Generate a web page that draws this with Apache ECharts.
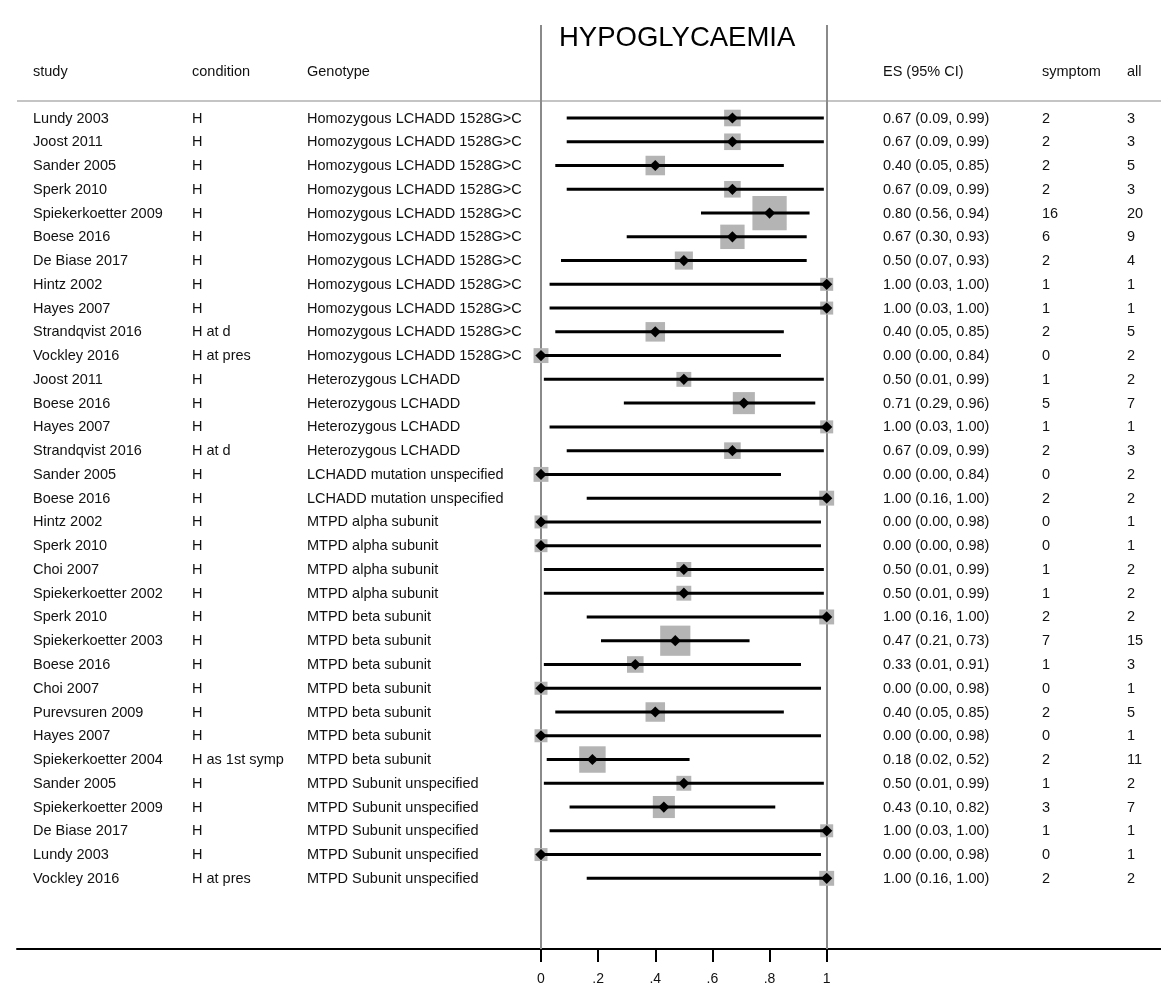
<!DOCTYPE html>
<html>
<head>
<meta charset="utf-8">
<title>Hypoglycaemia forest plot</title>
<script src="https://cdn.jsdelivr.net/npm/echarts@6/dist/echarts.min.js"></script>
<style>
  html, body { margin: 0; padding: 0; background: #fff; }
  #chart { width: 1161px; height: 1008px; }
</style>
</head>
<body>
<div id="chart"></div>
<script>
// Study rows, top to bottom
const study = [
  'Lundy 2003', 'Joost 2011', 'Sander 2005', 'Sperk 2010', 'Spiekerkoetter 2009',
  'Boese 2016', 'De Biase 2017', 'Hintz 2002', 'Hayes 2007', 'Strandqvist 2016',
  'Vockley 2016', 'Joost 2011', 'Boese 2016', 'Hayes 2007', 'Strandqvist 2016',
  'Sander 2005', 'Boese 2016', 'Hintz 2002', 'Sperk 2010', 'Choi 2007',
  'Spiekerkoetter 2002', 'Sperk 2010', 'Spiekerkoetter 2003', 'Boese 2016', 'Choi 2007',
  'Purevsuren 2009', 'Hayes 2007', 'Spiekerkoetter 2004', 'Sander 2005', 'Spiekerkoetter 2009',
  'De Biase 2017', 'Lundy 2003', 'Vockley 2016'
];
const condition = [
  'H', 'H', 'H', 'H', 'H', 'H', 'H', 'H', 'H', 'H at d', 'H at pres',
  'H', 'H', 'H', 'H at d', 'H', 'H', 'H', 'H', 'H', 'H', 'H', 'H', 'H', 'H',
  'H', 'H', 'H as 1st symp', 'H', 'H', 'H', 'H', 'H at pres'
];
const genotype = [
  'Homozygous LCHADD 1528G>C', 'Homozygous LCHADD 1528G>C', 'Homozygous LCHADD 1528G>C',
  'Homozygous LCHADD 1528G>C', 'Homozygous LCHADD 1528G>C', 'Homozygous LCHADD 1528G>C',
  'Homozygous LCHADD 1528G>C', 'Homozygous LCHADD 1528G>C', 'Homozygous LCHADD 1528G>C',
  'Homozygous LCHADD 1528G>C', 'Homozygous LCHADD 1528G>C',
  'Heterozygous LCHADD', 'Heterozygous LCHADD', 'Heterozygous LCHADD', 'Heterozygous LCHADD',
  'LCHADD mutation unspecified', 'LCHADD mutation unspecified',
  'MTPD alpha subunit', 'MTPD alpha subunit', 'MTPD alpha subunit', 'MTPD alpha subunit',
  'MTPD beta subunit', 'MTPD beta subunit', 'MTPD beta subunit', 'MTPD beta subunit',
  'MTPD beta subunit', 'MTPD beta subunit', 'MTPD beta subunit',
  'MTPD Subunit unspecified', 'MTPD Subunit unspecified', 'MTPD Subunit unspecified',
  'MTPD Subunit unspecified', 'MTPD Subunit unspecified'
];
const es = [
  0.67, 0.67, 0.40, 0.67, 0.80, 0.67, 0.50, 1.00, 1.00, 0.40, 0.00,
  0.50, 0.71, 1.00, 0.67, 0.00, 1.00, 0.00, 0.00, 0.50, 0.50,
  1.00, 0.47, 0.33, 0.00, 0.40, 0.00, 0.18, 0.50, 0.43, 1.00, 0.00, 1.00
];
const ciLow = [
  0.09, 0.09, 0.05, 0.09, 0.56, 0.30, 0.07, 0.03, 0.03, 0.05, 0.00,
  0.01, 0.29, 0.03, 0.09, 0.00, 0.16, 0.00, 0.00, 0.01, 0.01,
  0.16, 0.21, 0.01, 0.00, 0.05, 0.00, 0.02, 0.01, 0.10, 0.03, 0.00, 0.16
];
const ciHigh = [
  0.99, 0.99, 0.85, 0.99, 0.94, 0.93, 0.93, 1.00, 1.00, 0.85, 0.84,
  0.99, 0.96, 1.00, 0.99, 0.84, 1.00, 0.98, 0.98, 0.99, 0.99,
  1.00, 0.73, 0.91, 0.98, 0.85, 0.98, 0.52, 0.99, 0.82, 1.00, 0.98, 1.00
];
const symptom = [
  2, 2, 2, 2, 16, 6, 2, 1, 1, 2, 0,
  1, 5, 1, 2, 0, 2, 0, 0, 1, 1,
  2, 7, 1, 0, 2, 0, 2, 1, 3, 1, 0, 2
];
const total = [
  3, 3, 5, 3, 20, 9, 4, 1, 1, 5, 2,
  2, 7, 1, 3, 2, 2, 1, 1, 2, 2,
  2, 15, 3, 1, 5, 1, 11, 2, 7, 1, 1, 2
];
const tickValues = [0, 0.2, 0.4, 0.6, 0.8, 1];
const tickLabels = ['0', '.2', '.4', '.6', '.8', '1'];
const headers = ['study', 'condition', 'Genotype', 'ES (95% CI)', 'symptom', 'all'];
const chartTitle = 'HYPOGLYCAEMIA';

// ---- layout ----
const W = 1161, H = 1008;
const FONT = "'Liberation Sans', Arial, Helvetica, sans-serif";
const TXT = 14.5;
const colX = [33, 192, 307, 883, 1042, 1127];
const plotLeft = 17, plotTop = 25, plotBottom = 949;
const zeroPx = 541, onePx = 826.7;          // pixel positions of 0 and 1 on the scale
const firstRowPx = 118, rowStep = 23.76;     // centre of first row, row spacing

const unit = onePx - zeroPx;
const xMin = -(zeroPx - plotLeft) / unit;
const xMax = xMin + (W - plotLeft) / unit;
const yMin = (plotTop - firstRowPx) / rowStep;
const yMax = yMin + (plotBottom - plotTop) / rowStep;

const fmt = v => v.toFixed(2);
const esText = study.map((_, i) => `${fmt(es[i])} (${fmt(ciLow[i])}, ${fmt(ciHigh[i])})`);

// rows: [low, high, estimate, n, rowIndex]
const forestData = study.map((_, i) => [ciLow[i], ciHigh[i], es[i], total[i], i]);
const tableData = study.map((_, i) => [0, i]);

function renderForest(params, api) {
  const lo = api.value(0), hi = api.value(1), est = api.value(2), n = api.value(3), row = api.value(4);
  const pLo = api.coord([lo, row]);
  const pHi = api.coord([hi, row]);
  const pEs = api.coord([est, row]);
  const box = Math.sqrt(116 + 53 * n);       // box area grows with study size
  const d = 5.6;
  return {
    type: 'group',
    children: [
      {
        type: 'rect',
        shape: { x: pEs[0] - box / 2, y: pEs[1] - box / 2, width: box, height: box },
        style: { fill: '#b4b4b4' }
      },
      {
        type: 'line',
        shape: { x1: pLo[0], y1: pLo[1], x2: pHi[0], y2: pHi[1] },
        style: { stroke: '#000', lineWidth: 3 }
      },
      {
        type: 'polygon',
        shape: { points: [[pEs[0] - d, pEs[1]], [pEs[0], pEs[1] - d], [pEs[0] + d, pEs[1]], [pEs[0], pEs[1] + d]] },
        style: { fill: '#000' }
      }
    ]
  };
}

function renderTable(params, api) {
  const row = api.value(1);
  const y = api.coord([0, row])[1];
  const cells = [study[row], condition[row], genotype[row], esText[row], String(symptom[row]), String(total[row])];
  return {
    type: 'group',
    children: cells.map((t, c) => ({
      type: 'text',
      style: {
        text: t, x: colX[c], y: y + 0.5,
        font: `${TXT}px ${FONT}`, fill: '#111',
        align: 'left', verticalAlign: 'middle'
      }
    }))
  };
}

const chart = echarts.init(document.getElementById('chart'), null, { renderer: 'canvas' });
chart.setOption({
  backgroundColor: '#fff',
  animation: false,
  title: {
    text: chartTitle,
    left: 554, top: 19,
    textStyle: { fontFamily: FONT, fontSize: 27.5, fontWeight: 'normal', color: '#000' }
  },
  grid: { left: plotLeft, right: 0, top: plotTop, bottom: H - plotBottom, containLabel: false },
  xAxis: {
    type: 'value', min: xMin, max: xMax,
    splitLine: { show: false },
    axisLine: { show: true, onZero: false, lineStyle: { color: '#000', width: 2 } },
    axisTick: { show: true, customValues: tickValues, length: 13, lineStyle: { color: '#000', width: 2 } },
    axisLabel: {
      show: true, customValues: tickValues, margin: 23,
      fontFamily: FONT, fontSize: 14, color: '#111',
      formatter: v => tickLabels[tickValues.findIndex(t => Math.abs(t - v) < 1e-9)]
    }
  },
  yAxis: { type: 'value', inverse: true, min: yMin, max: yMax, show: false },
  graphic: [
    { type: 'line', shape: { x1: plotLeft, y1: 101, x2: W, y2: 101 }, style: { stroke: '#c4c4c4', lineWidth: 2 }, z: 1 },
    ...headers.map((h, c) => ({
      type: 'text', x: colX[c], y: 72,
      style: { text: h, font: `${TXT}px ${FONT}`, fill: '#111', align: 'left', verticalAlign: 'middle' }
    }))
  ],
  series: [
    {
      type: 'custom', name: 'table', silent: true,
      data: tableData, renderItem: renderTable, clip: false, z: 3
    },
    {
      type: 'custom', name: 'estimates', silent: true,
      data: forestData, renderItem: renderForest, clip: false, z: 4,
      encode: { x: [0, 1, 2], y: 4 },
      markLine: {
        silent: true, symbol: 'none', animation: false,
        label: { show: false },
        lineStyle: { color: '#8a8a8a', width: 2, type: 'solid' },
        data: [{ xAxis: 0 }, { xAxis: 1 }],
        z: 2
      }
    }
  ]
});
</script>
</body>
</html>
